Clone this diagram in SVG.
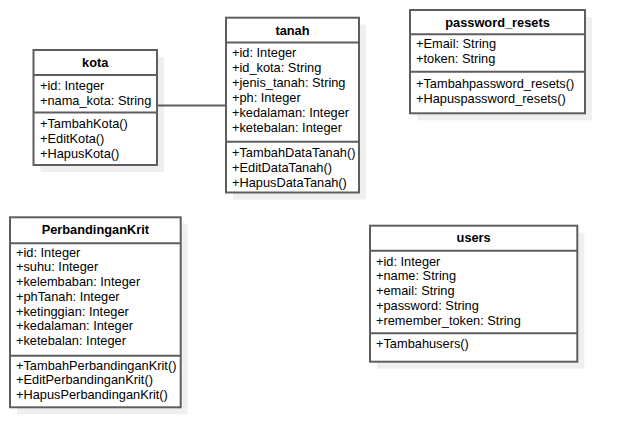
<svg xmlns="http://www.w3.org/2000/svg" width="625" height="448" viewBox="0 0 625 448">
<style>
.sh{fill:#efefef;stroke:none}
.bx{fill:#ffffff;stroke:#5e5e5e;stroke-width:2}
.dv{stroke:#5e5e5e;stroke-width:2;fill:none}
.t{font-family:"Liberation Sans",Arial,sans-serif;font-size:12.8px;fill:#000}
.h{font-family:"Liberation Sans",Arial,sans-serif;font-size:12.8px;font-weight:bold;fill:#000;text-anchor:middle}
</style>
<rect width="625" height="448" fill="#ffffff"/>
<g id="kota">
<rect class="sh" x="40.5" y="57" width="123.5" height="115"/>
<rect class="bx" x="33.5" y="50" width="123.5" height="115"/>
<line class="dv" x1="33.5" y1="75" x2="157" y2="75"/>
<line class="dv" x1="33.5" y1="112.5" x2="157" y2="112.5"/>
<text class="h" x="95.25" y="67">kota</text>
<text class="t" x="40" y="90">+id: Integer</text>
<text class="t" x="40" y="105">+nama_kota: String</text>
<text class="t" x="40" y="127.7">+TambahKota()</text>
<text class="t" x="40" y="142.7">+EditKota()</text>
<text class="t" x="40" y="157.7">+HapusKota()</text>
</g>
<g id="tanah">
<rect class="sh" x="233" y="24.7" width="133" height="174.8"/>
<rect class="bx" x="226" y="17.7" width="133" height="174.8"/>
<line class="dv" x1="226" y1="42.5" x2="359" y2="42.5"/>
<line class="dv" x1="226" y1="141.7" x2="359" y2="141.7"/>
<text class="h" x="292.5" y="35">tanah</text>
<text class="t" x="232" y="56.7">+id: Integer</text>
<text class="t" x="232" y="71.7">+id_kota: String</text>
<text class="t" x="232" y="86.7">+jenis_tanah: String</text>
<text class="t" x="232" y="101.7">+ph: Integer</text>
<text class="t" x="232" y="116.7">+kedalaman: Integer</text>
<text class="t" x="232" y="131.7">+ketebalan: Integer</text>
<text class="t" x="232" y="156.7">+TambahDataTanah()</text>
<text class="t" x="232" y="171.7">+EditDataTanah()</text>
<text class="t" x="232" y="186.7">+HapusDataTanah()</text>
</g>
<g id="password_resets">
<rect class="sh" x="417" y="17" width="175" height="103.3"/>
<rect class="bx" x="410" y="10" width="175" height="103.3"/>
<line class="dv" x1="410" y1="34.3" x2="585" y2="34.3"/>
<line class="dv" x1="410" y1="71.7" x2="585" y2="71.7"/>
<text class="h" x="497.5" y="26.7">password_resets</text>
<text class="t" x="416" y="48.3">+Email: String</text>
<text class="t" x="416" y="63.3">+token: String</text>
<text class="t" x="416" y="87.7">+Tambahpassword_resets()</text>
<text class="t" x="416" y="102.7">+Hapuspassword_resets()</text>
</g>
<g id="PerbandinganKrit">
<rect class="sh" x="17" y="224.3" width="170.7" height="190"/>
<rect class="bx" x="10" y="217.3" width="170.7" height="190"/>
<line class="dv" x1="10" y1="243.3" x2="180.7" y2="243.3"/>
<line class="dv" x1="10" y1="355.7" x2="180.7" y2="355.7"/>
<text class="h" x="95.35" y="234">PerbandinganKrit</text>
<text class="t" x="16" y="256.7">+id: Integer</text>
<text class="t" x="16" y="271.4">+suhu: Integer</text>
<text class="t" x="16" y="286.1">+kelembaban: Integer</text>
<text class="t" x="16" y="300.8">+phTanah: Integer</text>
<text class="t" x="16" y="315.5">+ketinggian: Integer</text>
<text class="t" x="16" y="330.2">+kedalaman: Integer</text>
<text class="t" x="16" y="344.9">+ketebalan: Integer</text>
<text class="t" x="16" y="369.5">+TambahPerbandinganKrit()</text>
<text class="t" x="16" y="384.2">+EditPerbandinganKrit()</text>
<text class="t" x="16" y="398.9">+HapusPerbandinganKrit()</text>
</g>
<g id="users">
<rect class="sh" x="377" y="232.7" width="207.3" height="136"/>
<rect class="bx" x="370" y="225.7" width="207.3" height="136"/>
<line class="dv" x1="370" y1="250.7" x2="577.3" y2="250.7"/>
<line class="dv" x1="370" y1="333.3" x2="577.3" y2="333.3"/>
<text class="h" x="473.65" y="242">users</text>
<text class="t" x="376" y="265.7">+id: Integer</text>
<text class="t" x="376" y="280.4">+name: String</text>
<text class="t" x="376" y="295.1">+email: String</text>
<text class="t" x="376" y="309.8">+password: String</text>
<text class="t" x="376" y="324.5">+remember_token: String</text>
<text class="t" x="376" y="348.3">+Tambahusers()</text>
</g>
<g id="connectors">
<line class="dv" x1="158" y1="105.5" x2="225" y2="105.5"/>
</g>
</svg>
